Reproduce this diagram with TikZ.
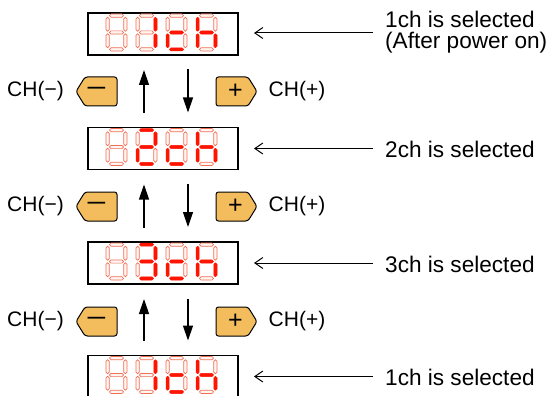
\documentclass[tikz,border=0pt]{standalone}
\usepackage{fontspec}
\setmainfont{Liberation Sans}
\usetikzlibrary{arrows.meta}
\definecolor{segred}{RGB}{255,20,0}
\definecolor{segoffc}{RGB}{242,110,85}
\definecolor{segofffill}{RGB}{255,246,242}
\definecolor{btnfill}{RGB}{243,189,94}
% a b c d e f g
\newcommand\sevdigit[9]{%
\begin{scope}[shift={(#1,#2)}]
\path[#3] (3.5,0) rectangle (17.5,3.2);
\path[#4] (17.8,3.3) rectangle (21,17.2);
\path[#5] (17.8,19.8) rectangle (21,33.7);
\path[#6] (3.5,33.8) rectangle (17.5,37);
\path[#7] (0,19.8) rectangle (3.2,33.7);
\path[#8] (0,3.3) rectangle (3.2,17.2);
\path[#9] (3.5,16.9) rectangle (17.5,20.1);
\end{scope}}
\newcommand\segBlank[2]{\sevdigit{#1}{#2}{segoff}{segoff}{segoff}{segoff}{segoff}{segoff}{segoff}}
\newcommand\segOne[2]{\sevdigit{#1}{#2}{segoff}{segon}{segon}{segoff}{segoff}{segoff}{segoff}}
\newcommand\segTwo[2]{\sevdigit{#1}{#2}{segon}{segon}{segoff}{segon}{segon}{segoff}{segon}}
\newcommand\segThree[2]{\sevdigit{#1}{#2}{segon}{segon}{segon}{segon}{segoff}{segoff}{segon}}
\newcommand\segC[2]{\sevdigit{#1}{#2}{segoff}{segoff}{segoff}{segon}{segon}{segoff}{segon}}
\newcommand\segH[2]{\sevdigit{#1}{#2}{segoff}{segoff}{segon}{segoff}{segon}{segon}{segon}}
% display: name, center y, second digit macro
\newcommand\display[3]{%
\node[dispbox] (#1) at (163,#2) {};
\segBlank{106}{#2-20}
#3{136}{#2-20}
\segC{166}{#2-20}
\segH{196}{#2-20}}
% buttons: name, cx, cy
\newcommand\minusbtn[3]{%
\path[btnshape] (#2+20.5,#3) -- (#2+20.5,#3+14.5) -- (#2-11.5,#3+14.5) -- (#2-20.5,#3) -- (#2-11.5,#3-14.5) -- (#2+20.5,#3-14.5) -- cycle;
\node[btnlabel] (#1) at (#2,#3) {\scalebox{1.45}[1]{−}};}
\newcommand\plusbtn[3]{%
\path[btnshape] (#2-20.5,#3) -- (#2-20.5,#3-14.5) -- (#2+11.5,#3-14.5) -- (#2+20.5,#3) -- (#2+11.5,#3+14.5) -- (#2-20.5,#3+14.5) -- cycle;
\node[btnlabel] (#1) at (#2-1,#3) {+};}
\begin{document}
\begin{tikzpicture}[x=1pt,y=-1pt,
  segoff/.style={draw=segoffc, fill=segofffill, line width=0.7pt, rounded corners=1.5pt},
  segon/.style={draw=segred, fill=segred, line width=0.5pt, rounded corners=1.5pt},
  dispbox/.style={draw=black, fill=white, line width=1.5pt, minimum width=150pt, minimum height=42pt, inner sep=0pt, outer sep=0pt},
  btnshape/.style={draw=black, fill=btnfill, line width=1pt, rounded corners=2.5pt},
  btnlabel/.style={inner sep=0pt, font=\fontsize{25}{26}\selectfont},
  chlabel/.style={inner sep=0pt, font=\fontsize{21}{24}\selectfont},
  sellabel/.style={inner sep=0pt, font=\fontsize{22.6}{21.5}\selectfont, align=left},
  larrow/.style={-{Straight Barb[length=8pt,width=11pt]}, line width=1pt, shorten <=12pt, shorten >=16pt},
  varrow/.style={-{Triangle[length=15pt,width=10pt]}, line width=1.3pt, shorten <=14.5pt, shorten >=15pt}]
\useasboundingbox (0,0) rectangle (552,396);
\fill[white] (0,0) rectangle (552,396);
\display{d1}{34}{\segOne}
\display{d2}{148.5}{\segTwo}
\display{d3}{263}{\segThree}
\display{d4}{376.5}{\segOne}
% labels on the right
\node[sellabel, anchor=north west] (t1) at (385,10.5) {1ch is selected\\(After power on)};
\node[sellabel, anchor=base west] (t2) at (385,157.5) {2ch is selected};
\node[sellabel, anchor=base west] (t3) at (385,272) {3ch is selected};
\node[sellabel, anchor=base west] (t4) at (385,385.5) {1ch is selected};
\draw[larrow] (t1.west |- 0,33) -- (d1.east |- 0,33);
\draw[larrow] (t2.west |- d2.east) -- (d2.east);
\draw[larrow] (t3.west |- d3.east) -- (d3.east);
\draw[larrow] (t4.west |- d4.east) -- (d4.east);
% button rows
\minusbtn{m1}{96.5}{91.5}
\plusbtn{p1}{236.5}{91.5}
\minusbtn{m2}{96.5}{206.5}
\plusbtn{p2}{236.5}{206.5}
\minusbtn{m3}{96.5}{321.5}
\plusbtn{p3}{236.5}{321.5}
\node[chlabel] (cm1) at (35.5,91.5) {CH(−)};
\node[chlabel] (cp1) at (297,91.5) {CH(+)};
\node[chlabel] (cm2) at (35.5,206.5) {CH(−)};
\node[chlabel] (cp2) at (297,206.5) {CH(+)};
\node[chlabel] (cm3) at (35.5,321.5) {CH(−)};
\node[chlabel] (cp3) at (297,321.5) {CH(+)};
% up/down arrows
\draw[varrow] ([xshift=-19pt]d2.north) -- ([xshift=-19pt]d1.south);
\draw[varrow] ([xshift=25pt]d1.south) -- ([xshift=25pt]d2.north);
\draw[varrow] ([xshift=-19pt]d3.north) -- ([xshift=-19pt]d2.south);
\draw[varrow] ([xshift=25pt]d2.south) -- ([xshift=25pt]d3.north);
\draw[varrow] ([xshift=-19pt]d4.north) -- ([xshift=-19pt]d3.south);
\draw[varrow] ([xshift=25pt]d3.south) -- ([xshift=25pt]d4.north);
\end{tikzpicture}
\end{document}
